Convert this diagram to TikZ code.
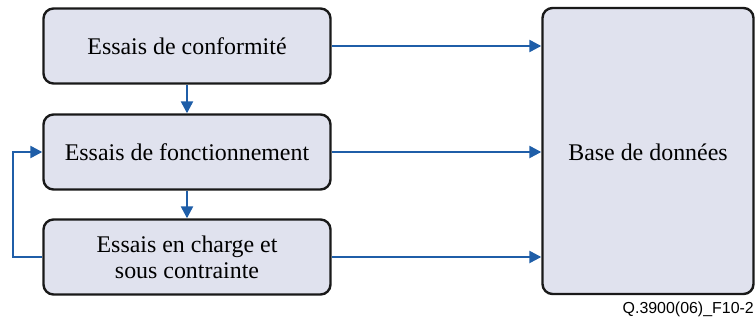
\documentclass[tikz,border=0pt]{standalone}
\usepackage{fontspec}
\setmainfont{Liberation Serif}
\setsansfont{Liberation Sans}
\usepackage{xcolor}
\usepackage{tikz}
\usetikzlibrary{positioning}
\usetikzlibrary{arrows.meta}
\definecolor{boxfill}{RGB}{224,226,238}
\definecolor{flowcol}{RGB}{31,94,168}
\tikzstyle{testbox}=[draw=black!90, line width=2.4bp, fill=boxfill, rounded corners=10bp,
  minimum width=287bp, minimum height=75bp, inner sep=0pt, align=center,
  font=\fontsize{24}{26}\selectfont]
\tikzstyle{flow}=[-{Triangle[length=12bp,width=12bp]}, draw=flowcol, line width=2.4bp]

\begin{document}
\begin{tikzpicture}[x=1bp,y=1bp]

    % fixed frame, same size as the original figure
    \useasboundingbox (0,0) rectangle (755,320);

    % test boxes on the left
    \node[testbox] (conf) at (187,274) {Essais de conformit\'e};
    \node[testbox] (fonc) at (187,168) {Essais de fonctionnement};
    \node[testbox] (charge) at (187,63) {Essais en charge et\\sous contrainte};

    % data base on the right
    \node[testbox, minimum width=211bp, minimum height=286bp] (base) at (648,169) {};
    \node[font=\fontsize{24}{26}\selectfont] (basetxt) at (648,168) {Base de donn\'ees};

    % arrows between the tests
    \draw[flow] (conf) -- (fonc);
    \draw[flow] (fonc) -- (charge);
    \coordinate (back) at (13,63);
    \draw[flow] (charge.west) -- (back) |- (fonc.west);

    % every test goes to the data base
    \foreach \n in {conf, fonc, charge} {
        \draw[flow] (\n.east) -- (\n.east -| base.west);
    }

    % figure reference
    \node[anchor=base east, inner sep=0pt, font=\sffamily\fontsize{16}{18}\selectfont] (ref) at (754,6.5) {Q.3900(06)\_F10-2};

\end{tikzpicture}
\end{document}
